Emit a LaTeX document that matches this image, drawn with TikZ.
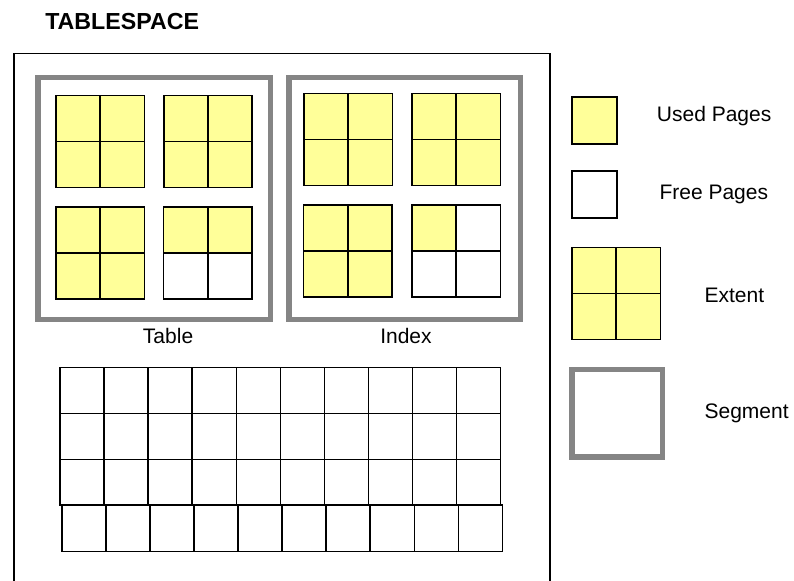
\documentclass[tikz,border=0pt]{standalone}
\usepackage{fontspec}
\setmainfont{Liberation Sans}
\definecolor{pageyellow}{HTML}{FFFF99}
\definecolor{seggray}{HTML}{858585}

\begin{document}
\begin{tikzpicture}[x=0.75pt,y=-0.75pt,
  lbl/.style={inner sep=0pt,anchor=base west,font=\fontsize{15.75}{18}\selectfont},
  pageline/.style={draw=black,line width=1.25pt},
  usedpage/.style={fill=pageyellow},
  segline/.style={draw=seggray,line width=4.1pt},
  gridline/.style={draw=black,line width=1.1pt}]
  \useasboundingbox (0,0) rectangle (794,581);
  % tablespace frame, open at the bottom
  \draw[line width=1pt] (14,600) -- (14,53.3) -- (550,53.3) -- (550,600);
  \node[lbl,font=\bfseries\fontsize{17.4}{20}\selectfont] (title) at (45,30) {TABLESPACE};

  % segments
  \draw[segline] (38.2,77.3) rectangle (270.5,319.7);
  \draw[segline] (288.8,77.5) rectangle (520.5,319.7);
  \node[lbl] (tablbl) at (142.7,344) {Table};
  \node[lbl] (idxlbl) at (380,344) {Index};

  % extents: corner / used flags (tl,tr,bl,br)
  \foreach \ex/\ey/\a/\b/\c/\d in {56/95.5/1/1/1/1, 163.7/95.5/1/1/1/1,
      56/207.3/1/1/1/1, 163.5/207.3/1/1/0/0,
      304/93.5/1/1/1/1, 412/93.5/1/1/1/1,
      303.5/205/1/1/1/1, 412/205/1/0/0/0,
      572/247.5/1/1/1/1}{
    \ifnum\a=1 \fill[usedpage] (\ex,\ey) rectangle ++(44.25,46); \fi
    \ifnum\b=1 \fill[usedpage] (\ex+44.25,\ey) rectangle ++(44.25,46); \fi
    \ifnum\c=1 \fill[usedpage] (\ex,\ey+46) rectangle ++(44.25,46); \fi
    \ifnum\d=1 \fill[usedpage] (\ex+44.25,\ey+46) rectangle ++(44.25,46); \fi
    \draw[pageline] (\ex,\ey) rectangle ++(88.5,92);
    \draw[pageline] (\ex+44.25,\ey) -- ++(0,92);
    \draw[pageline] (\ex,\ey+46) -- ++(88.5,0);
  }

  % free space grid
  \foreach \r in {0,1,2}
    \foreach \c in {0,...,9}
      \draw[gridline] (60+44.07*\c,367.3+46*\r) rectangle ++(44.07,46);
  \foreach \c in {0,...,9}
    \draw[gridline] (62+44.03*\c,505.2) rectangle ++(44.03,46.5);

  % legend
  \draw[pageline,usedpage] (571.7,97.3) rectangle (616.7,144);
  \draw[pageline] (571.7,171) rectangle (616.7,217.7);
  \draw[segline] (572.2,369.5) rectangle (662.5,457);
  \node[lbl] (usedlbl) at (656.7,121.7) {Used Pages};
  \node[lbl] (freelbl) at (659.3,200) {Free Pages};
  \node[lbl] (extlbl) at (704.3,302.7) {Extent};
  \node[lbl] (seglbl) at (704.3,418.7) {Segment};
\end{tikzpicture}
\end{document}
